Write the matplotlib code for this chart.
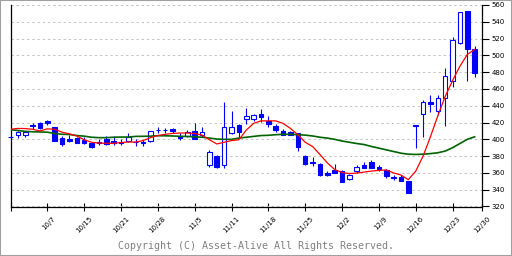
import numpy as np
import matplotlib
matplotlib.use("Agg")
import matplotlib.pyplot as plt
import matplotlib.patches as mpatches
from matplotlib.transforms import ScaledTranslation

# daily candles, one slot per trading day (slot 0 = 9/30)
opens = [403.2, 404.8, 404.6, 416.3, 419.1, 421.8, 414.6, 401.2, 400.4, 401.8,
         399.8, 395.2, 396.3, 400.4, 398.4, 396.8, 398.0, 397.0, 397.3, 398.0,
         411.2, 411.2, 411.8, 404.0, 404.5, 409.6, 404.8, 369.0, 379.7, 369.4,
         407.6, 416.7, 424.7, 424.7, 429.9, 421.8, 415.9, 409.6, 408.4, 407.5,
         380.1, 372.4, 370.6, 359.8, 363.8, 362.2, 352.7, 362.0, 369.4, 372.7,
         367.5, 363.0, 354.5, 355.0, 349.9, 416.0, 430.2, 444.2, 434.3, 449.3,
         468.9, 515.0, 552.8, 507.0]
highs = [403.6, 409.5, 409.5, 419.3, 420.3, 423.3, 415.0, 403.5, 404.8, 402.7,
         403.2, 397.3, 400.8, 403.6, 403.6, 400.8, 408.0, 400.4, 398.8, 410.0,
         414.3, 413.5, 414.0, 407.5, 410.7, 419.0, 414.3, 387.5, 381.0, 444.5,
         433.8, 418.7, 437.4, 430.2, 436.6, 427.8, 418.7, 412.8, 410.0, 408.0,
         381.7, 379.3, 372.0, 362.2, 370.1, 363.0, 359.0, 369.0, 372.5, 374.9,
         369.0, 365.0, 357.8, 357.8, 350.5, 416.5, 447.4, 452.5, 452.5, 484.8,
         521.4, 551.3, 552.8, 511.0]
lows = [401.5, 401.8, 402.5, 412.8, 411.8, 417.5, 398.0, 392.0, 397.0, 395.5,
        394.9, 389.6, 393.7, 393.2, 393.0, 393.7, 396.4, 392.5, 392.0, 396.4,
        408.0, 408.0, 407.2, 398.8, 402.7, 400.0, 403.0, 367.0, 365.5, 366.2,
        406.8, 402.7, 418.0, 421.5, 420.7, 414.7, 408.8, 404.8, 404.8, 386.0,
        369.4, 368.1, 356.0, 356.2, 359.5, 349.0, 351.0, 360.2, 365.4, 365.7,
        362.2, 353.8, 351.9, 349.9, 335.9, 389.6, 402.7, 432.6, 429.5, 415.9,
        462.4, 513.8, 470.0, 474.4]
closes = [402.2, 409.0, 408.8, 416.0, 413.8, 419.6, 398.3, 394.5, 397.6, 396.2,
          395.8, 391.2, 396.0, 395.0, 396.1, 396.2, 403.2, 396.7, 395.3, 409.6,
          410.9, 410.9, 409.8, 402.0, 408.5, 400.5, 408.8, 385.0, 367.1, 415.2,
          414.3, 408.8, 427.8, 428.7, 426.3, 417.9, 410.7, 405.6, 405.6, 390.8,
          371.0, 372.0, 357.1, 357.1, 360.4, 349.1, 357.6, 366.8, 365.7, 365.9,
          364.5, 355.8, 354.2, 350.3, 336.0, 416.3, 444.2, 442.6, 449.3, 476.0,
          518.2, 551.3, 507.8, 479.6]

# moving averages
ma_short = [412.0, 413.0, 412.8, 412.0, 410.0, 412.5, 412.0, 408.5, 406.5, 404.0,
            399.5, 396.5, 395.5, 395.3, 395.3, 396.2, 396.8, 396.8, 398.5, 402.0,
            404.5, 406.0, 407.0, 407.5, 407.5, 407.0, 405.0, 399.5, 394.5, 396.5,
            398.5, 399.5, 411.0, 419.0, 422.0, 422.0, 422.0, 419.0, 413.0, 405.5,
            396.5, 391.5, 382.0, 372.0, 364.0, 360.5, 359.2, 359.8, 361.0, 362.2,
            363.0, 363.5, 360.0, 357.5, 352.0, 362.0, 380.0, 403.0, 428.0, 451.0,
            470.0, 487.0, 501.0, 507.0]
ma_long = [411.5, 410.5, 409.5, 409.0, 408.8, 408.5, 407.0, 406.0, 405.8, 404.5,
           403.8, 402.5, 402.0, 402.0, 402.5, 402.7, 402.7, 403.5, 403.6, 403.8,
           404.3, 404.2, 404.0, 403.6, 403.4, 403.0, 402.5, 401.5, 400.3, 400.0,
           400.0, 401.5, 402.5, 403.5, 404.5, 404.8, 405.5, 406.0, 406.0, 405.5,
           405.0, 404.0, 402.5, 401.5, 400.0, 398.0, 396.5, 395.0, 393.8, 391.5,
           389.5, 387.5, 385.5, 383.5, 382.3, 382.0, 382.3, 383.0, 384.0, 386.0,
           390.0, 395.0, 400.0, 403.0]

tick_pos = [0, 5, 10, 15, 20, 25, 30, 35, 40, 45, 50, 55, 60, 64]
tick_lbl = ["", "10/7", "10/15", "10/21", "10/28", "11/5", "11/11", "11/18",
            "11/25", "12/2", "12/9", "12/16", "12/23", "12/30"]
price_ticks = list(range(320, 561, 20))

BLUE = "#0000ff"
W, H = 512, 256

fig = plt.figure(figsize=(W / 100, H / 100), dpi=100)
ax = fig.add_axes([10.5 / W, 1 - 206.5 / H, 471.5 / W, 201.5 / H])

x = np.arange(len(opens))
o = np.array(opens); c = np.array(closes)
up = c > o

# wicks, then bodies
ax.vlines(x, lows, highs, color=BLUE, lw=0.8, zorder=3, clip_on=False)
body = np.maximum(np.abs(c - o), 0.6)
ax.bar(x, body, width=0.62, bottom=np.minimum(o, c),
       color=np.where(up, "white", BLUE), edgecolor=BLUE, lw=0.8,
       zorder=4, clip_on=False)

ax.plot(x, ma_long, color="#006400", lw=1.2, zorder=5)
ax.plot(x, ma_short, color="#ff0000", lw=0.9, zorder=6)

ax.set_xlim(0, 64)
ax.set_ylim(320, 560)
ax.set_yticks(price_ticks)
ax.yaxis.tick_right()
ax.grid(axis="y", color="#c4c4c4", lw=0.75, ls=(0, (2.2, 2.8)), zorder=0)
ax.set_axisbelow(True)

for s in ("left", "bottom", "right"):
    ax.spines[s].set_linewidth(0.9)
    ax.spines[s].set_color("black")
ax.spines["top"].set_visible(False)

ax.tick_params(axis="y", direction="out", length=5, width=0.8, pad=2,
               labelsize=5, colors="black")
ax.set_xticks(tick_pos)
ax.set_xticklabels([])
ax.tick_params(axis="x", direction="inout", length=5.5, width=0.8)

off = ScaledTranslation(7 / 100, -11 / 100, fig.dpi_scale_trans)
for p, t in zip(tick_pos, tick_lbl):
    ax.text(p, 0, t, transform=ax.get_xaxis_transform() + off,
            rotation=45, ha="right", va="center", rotation_mode="anchor",
            fontsize=5, color="black")

fig.text(0.5, 1 - 246 / H, "Copyright (C) Asset-Alive All Rights Reserved.",
         ha="center", va="center", family="DejaVu Sans Mono", fontsize=7.2,
         color="#808080")

fig.patches.append(mpatches.Rectangle((0, 0), 1, 1, transform=fig.transFigure,
                                      fill=False, edgecolor="#a0a0a0", lw=1.5))

fig.savefig("out.png", dpi=100)
